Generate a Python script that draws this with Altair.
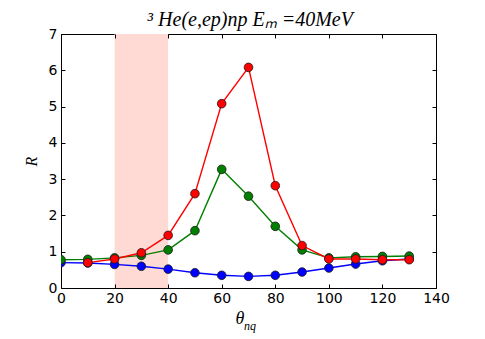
import altair as alt
import pandas as pd

# ---- data ----
angles = [0, 10, 20, 30, 40, 50, 60, 70, 80, 90, 100, 110, 120, 130]
blue_vals = [0.70, 0.69, 0.65, 0.60, 0.52, 0.42, 0.35, 0.32, 0.35, 0.44, 0.55, 0.66, 0.75, 0.80]
green_vals = [0.78, 0.79, 0.83, 0.90, 1.05, 1.58, 3.27, 2.53, 1.70, 1.05, 0.83, 0.86, 0.87, 0.88]
red_angles = [10, 20, 30, 40, 50, 60, 70, 80, 90, 100, 110, 120, 130]
red_vals = [0.70, 0.80, 0.97, 1.45, 2.60, 5.08, 6.08, 2.82, 1.17, 0.80, 0.80, 0.78, 0.78]
shade_start = [20]
shade_end = [40]
x_ticks = [0, 20, 40, 60, 80, 100, 120, 140]
y_ticks = [0, 1, 2, 3, 4, 5, 6, 7]
title_text = ["³ He(e,ep)np Eₘ =40MeV"]
x_title_main = ["θ"]
x_title_sub = ["nq"]
y_title = "R"

series_order = ["blue", "green", "red"]
colors = {"blue": "#0000ff", "green": "#008000", "red": "#ff0000"}

rows = []
for a, v in zip(angles, blue_vals):
    rows.append({"angle": a, "R": v, "series": "blue"})
for a, v in zip(angles, green_vals):
    rows.append({"angle": a, "R": v, "series": "green"})
for a, v in zip(red_angles, red_vals):
    rows.append({"angle": a, "R": v, "series": "red"})
df = pd.DataFrame(rows)
shade_df = pd.DataFrame({"start": shade_start, "end": shade_end})

x_scale = alt.Scale(domain=[0, 140], nice=False, zero=False)
y_scale = alt.Scale(domain=[0, 7], nice=False, zero=False)

tick_font = "DejaVu Sans"
common = dict(domain=False, grid=False, tickColor="black", labelFlush=False,
              tickWidth=1, tickSize=4, offset=-4, zindex=1)
bottom_axis = alt.Axis(orient="bottom", values=x_ticks, labelPadding=3,
                       labelFont=tick_font, labelFontSize=14, labelColor="black",
                       format="d", title=None, **common)
top_axis = alt.Axis(orient="top", values=x_ticks, labels=False, title=None, **common)
left_axis = alt.Axis(orient="left", values=y_ticks, labelPadding=4,
                     labelFont=tick_font, labelFontSize=14, labelColor="black",
                     format="d", title=y_title, titleFont="Liberation Serif",
                     titleFontSize=16, titleFontStyle="italic", titleFontWeight="normal",
                     titleColor="black", titlePadding=9, **common)
right_axis = alt.Axis(orient="right", values=y_ticks, labels=False, title=None, **common)

shade = alt.Chart(shade_df).mark_rect(color="#ffdad5", clip=True).encode(
    x=alt.X("start:Q", scale=x_scale, axis=None),
    x2="end:Q",
)

layers = [shade]
for i, s in enumerate(series_order):
    sub = alt.Chart(df).transform_filter(alt.datum.series == s)
    line = sub.mark_line(color=colors[s], strokeWidth=1.4, clip=True).encode(
        x=alt.X("angle:Q", scale=x_scale, axis=bottom_axis if i == 0 else None),
        y=alt.Y("R:Q", scale=y_scale, axis=left_axis if i == 0 else None),
    )
    pts = sub.mark_circle(color=colors[s], opacity=1, size=75, stroke="#1a1a1a",
                          strokeWidth=0.8, clip=True).encode(
        x=alt.X("angle:Q", scale=x_scale, axis=top_axis if i == 0 else None),
        y=alt.Y("R:Q", scale=y_scale, axis=right_axis if i == 0 else None),
    )
    layers += [line, pts]

theta = alt.Chart(pd.DataFrame({"t": x_title_main})).mark_text(
    font="Liberation Serif", fontStyle="italic", fontSize=18, align="center",
    baseline="middle", color="black").encode(
    text="t:N", x=alt.value(179), y=alt.value(285))
theta_sub = alt.Chart(pd.DataFrame({"t": x_title_sub})).mark_text(
    font="Liberation Serif", fontStyle="italic", fontSize=12, align="left",
    baseline="middle", color="black").encode(
    text="t:N", x=alt.value(183), y=alt.value(292))
title = alt.Chart(pd.DataFrame({"t": title_text})).mark_text(
    font="Liberation Serif", fontStyle="italic", fontSize=20, align="center",
    baseline="alphabetic", color="black").encode(
    text="t:N", x=alt.value(189), y=alt.value(-8))
layers += [theta, theta_sub, title]

chart = alt.layer(*layers).resolve_axis(x="independent", y="independent").properties(
    width=375,
    height=254,
    padding={"left": 53, "top": 26, "right": 41, "bottom": 51},
    autosize=alt.AutoSizeParams(type="none"),
).configure_view(stroke="black", strokeWidth=1)

chart.save("out.html", embed_options={"renderer": "svg", "actions": False})
